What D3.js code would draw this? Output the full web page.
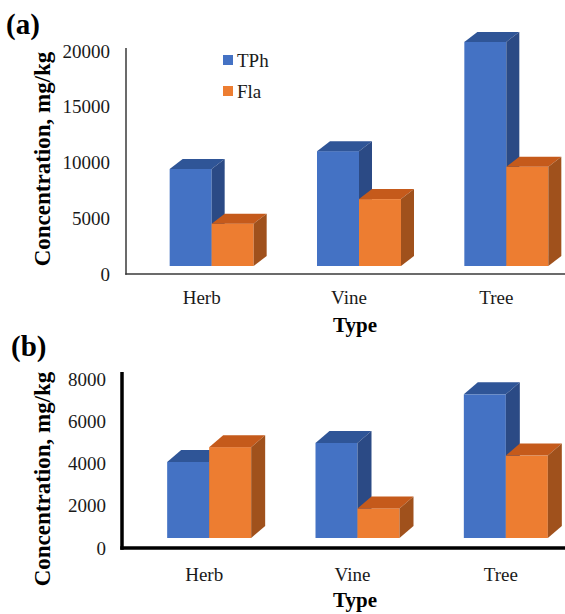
<!DOCTYPE html>
<html>
<head>
<meta charset="utf-8">
<script src="https://cdn.jsdelivr.net/npm/d3@7"></script>
<style>
  body { margin: 0; background: #fff; }
  svg { display: block; font-family: "Liberation Serif", "Times New Roman", serif; }
</style>
</head>
<body>
<div id="chart"></div>
<script>
// dati
var categories = ["Herb", "Vine", "Tree"];
var seriesNames = ["TPh", "Fla"];
var tphA = [8700, 10300, 20100];
var flaA = [3800, 6000, 8900];
var tphB = [3600, 4500, 6800];
var flaB = [4300, 1400, 3900];
var ticksA = [0, 5000, 10000, 15000, 20000];
var ticksB = [0, 2000, 4000, 6000, 8000];

var serif = '"Liberation Serif", "Times New Roman", serif';

var colors = {
  TPh: {front: "#4472C4", top: "#2F5597", side: "#2B4A85"},
  Fla: {front: "#ED7D31", top: "#C55A1B", side: "#A0511C"}
};

var svg = d3.select("#chart")
  .append("svg")
  .attr("width", 565)
  .attr("height", 614);

function drawPanel(p) {
  var y = d3.scaleLinear().domain(p.domain).range([p.y0, p.y1]);
  var x = d3.scaleBand().domain(categories).range(p.xRange);
  var g = svg.append("g");

  // etichette asse Y
  var ya = g.append("g")
    .attr("transform", "translate(" + p.axisX + ",0)")
    .call(d3.axisLeft(y).tickValues(p.ticks).tickSize(0).tickPadding(16).tickFormat(d3.format("d")));
  ya.attr("font-family", serif);
  ya.select(".domain").remove();
  ya.selectAll("text")
    .attr("font-size", "19px")
    .attr("fill", "#1a1a1a");

  // etichette asse X
  var xa = g.append("g")
    .attr("transform", "translate(0," + p.y0 + ")")
    .call(d3.axisBottom(x).tickSize(0));
  xa.attr("font-family", serif);
  xa.select(".domain").remove();
  xa.selectAll("text")
    .attr("y", p.catY)
    .attr("dy", "0.35em")
    .attr("font-size", "19px")
    .attr("fill", "#1a1a1a");

  // barre 3D
  var barW = 42;
  var data = [];
  categories.forEach(function(c, i) {
    var cx = x(c) + x.bandwidth() / 2 + p.shift;
    data.push({cat: c, s: "TPh", v: p.tph[i], x0: cx - barW, x1: cx});
    data.push({cat: c, s: "Fla", v: p.fla[i], x0: cx, x1: cx + barW});
  });

  var bars = g.append("g").selectAll("g")
    .data(data)
    .enter()
    .append("g");

  bars.append("rect")
    .attr("x", function(d) { return d.x0; })
    .attr("y", function(d) { return y(d.v) - p.floor; })
    .attr("width", barW)
    .attr("height", function(d) { return y(0) - y(d.v); })
    .attr("fill", function(d) { return colors[d.s].front; });

  bars.append("polygon")
    .attr("points", function(d) {
      var t = y(d.v) - p.floor;
      return [[d.x0, t], [d.x0 + p.dx, t - p.dy], [d.x1 + p.dx, t - p.dy], [d.x1, t]].join(" ");
    })
    .attr("fill", function(d) { return colors[d.s].top; });

  bars.append("polygon")
    .attr("points", function(d) {
      var t = y(d.v) - p.floor, b = y(0) - p.floor;
      return [[d.x1, t], [d.x1 + p.dx, t - p.dy], [d.x1 + p.dx, b - p.dy], [d.x1, b]].join(" ");
    })
    .attr("fill", function(d) { return colors[d.s].side; });

  // assi
  g.append("line")
    .attr("x1", p.axisX).attr("x2", p.axisX)
    .attr("y1", p.axisTop).attr("y2", p.y0 + p.axisW / 2)
    .attr("stroke", p.axisColor).attr("stroke-width", p.axisW);
  g.append("line")
    .attr("x1", p.axisX - p.axisW / 2).attr("x2", 565)
    .attr("y1", p.y0).attr("y2", p.y0)
    .attr("stroke", p.axisColor).attr("stroke-width", p.axisW);

  // titoli
  g.append("text")
    .attr("transform", "translate(50," + p.titleY + ") rotate(-90)")
    .attr("text-anchor", "middle")
    .attr("font-size", "23px")
    .attr("font-weight", "bold")
    .text("Concentration, mg/kg");

  g.append("text")
    .attr("x", 355)
    .attr("y", p.typeY)
    .attr("dy", "0.35em")
    .attr("text-anchor", "middle")
    .attr("font-size", "21px")
    .attr("font-weight", "bold")
    .text("Type");

  g.append("text")
    .attr("x", p.labelX)
    .attr("y", p.labelY)
    .attr("font-size", "29px")
    .attr("font-weight", "bold")
    .text(p.label);
}

drawPanel({
  domain: [0, 20000], ticks: ticksA, tph: tphA, fla: flaA,
  y0: 274, y1: 51, xRange: [128, 570], shift: 10, floor: 8, dx: 13, dy: 10,
  axisX: 126, axisTop: 48, axisW: 1.5, axisColor: "#3a3a3a",
  catY: 23, typeY: 325, titleY: 159, label: "(a)", labelX: 6, labelY: 34
});

drawPanel({
  domain: [0, 8000], ticks: ticksB, tph: tphB, fla: flaB,
  y0: 548, y1: 379, xRange: [130, 575], shift: 5, floor: 10, dx: 14, dy: 12,
  axisX: 122, axisTop: 372, axisW: 3.5, axisColor: "#000",
  catY: 26, typeY: 600, titleY: 479, label: "(b)", labelX: 11, labelY: 356
});

// legenda
var legend = svg.append("g");
legend.selectAll("rect")
  .data(seriesNames)
  .enter()
  .append("rect")
  .attr("x", 223)
  .attr("y", function(d, i) { return 55 + i * 31; })
  .attr("width", 10)
  .attr("height", 10)
  .attr("fill", function(d) { return colors[d].front; });
legend.selectAll("text")
  .data(seriesNames)
  .enter()
  .append("text")
  .attr("x", 237)
  .attr("y", function(d, i) { return 60 + i * 31; })
  .attr("dy", "0.35em")
  .attr("font-size", "19px")
  .attr("fill", "#1a1a1a")
  .text(function(d) { return d; });
</script>
</body>
</html>
